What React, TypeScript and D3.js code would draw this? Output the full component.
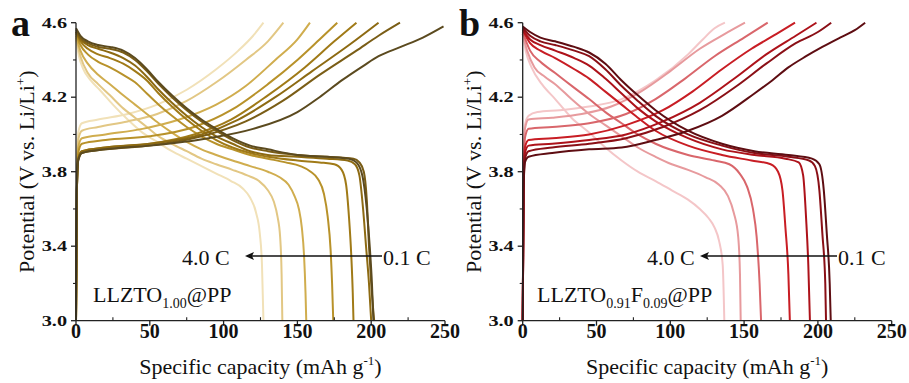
import React from "react";
import * as d3 from "d3";

type Pt = [number, number];

// ---------- Data ----------
const xTicks = [0, 50, 100, 150, 200, 250];
const xMinorTicks = [25, 75, 125, 175, 225];
const yTicks = [3.0, 3.4, 3.8, 4.2, 4.6];
const yMinorTicks = [3.2, 3.6, 4.0, 4.4];

// Panel a (LLZTO1.00@PP) — darkest (lowest rate) first
const colorsA = ["#5b4a1f", "#7a5d16", "#8d6a12", "#a07a17", "#b8922a", "#d0ad4e", "#e2c784", "#f1e1b8"];
const chargeA: Pt[][] = [
  [[0,3.0],[0.6,3.7],[1.5,3.86],[4,3.9],[20,3.92],[50,3.94],[90,3.98],[120,4.03],[150,4.12],[165,4.2],[180,4.29],[195,4.37],[205,4.42],[220,4.47],[235,4.52],[249,4.58]],
  [[0,3.0],[0.6,3.7],[1.5,3.86],[4,3.9],[20,3.92],[50,3.94],[85,3.99],[115,4.07],[140,4.18],[165,4.32],[190,4.45],[205,4.53],[219.5,4.6]],
  [[0,3.0],[0.6,3.7],[1.5,3.87],[4,3.91],[20,3.93],[50,3.95],[85,4.0],[110,4.08],[135,4.2],[160,4.34],[185,4.48],[205,4.6]],
  [[0,3.0],[0.6,3.7],[1.5,3.87],[4,3.91],[20,3.93],[50,3.95],[80,4.0],[105,4.08],[130,4.21],[155,4.36],[175,4.5],[190,4.6]],
  [[0,3.0],[0.6,3.7],[1.5,3.9],[4,3.95],[20,3.97],[50,3.99],[80,4.04],[105,4.13],[130,4.27],[150,4.4],[165,4.51],[177,4.6]],
  [[0,3.0],[0.6,3.72],[1.5,3.93],[4,3.98],[20,4.0],[45,4.03],[70,4.08],[95,4.16],[115,4.26],[135,4.4],[150,4.51],[158.5,4.6]],
  [[0,3.0],[0.6,3.75],[1.5,3.97],[4,4.02],[15,4.04],[35,4.07],[55,4.11],[75,4.18],[95,4.28],[115,4.4],[130,4.5],[140.5,4.6]],
  [[0,3.0],[0.6,3.78],[1.5,4.01],[4,4.06],[15,4.08],[35,4.11],[55,4.16],[75,4.24],[95,4.35],[110,4.45],[120,4.53],[127,4.6]],
];
const dischargeA: Pt[][] = [
  [[0,4.57],[3,4.53],[8,4.5],[15,4.48],[23,4.47],[32,4.45],[40,4.41],[48,4.35],[56,4.28],[65,4.21],[75,4.14],[85,4.08],[95,4.03],[106,3.98],[118,3.94],[130,3.92],[150,3.89],[170,3.88],[185,3.87],[190,3.85],[194,3.78],[197,3.6],[199,3.4],[200.5,3.2],[201.5,3.0]],
  [[0,4.56],[3,4.52],[8,4.49],[15,4.47],[23,4.46],[32,4.44],[40,4.4],[48,4.34],[56,4.27],[65,4.2],[75,4.13],[85,4.07],[95,4.02],[106,3.97],[118,3.93],[130,3.91],[150,3.89],[170,3.88],[188,3.87],[192,3.85],[195,3.8],[197,3.65],[198.5,3.4],[200,3.2],[202,3.0]],
  [[0,4.55],[3,4.51],[8,4.48],[15,4.46],[23,4.44],[32,4.41],[40,4.37],[48,4.31],[56,4.24],[65,4.17],[75,4.1],[85,4.04],[95,3.99],[106,3.95],[118,3.91],[130,3.89],[150,3.88],[170,3.87],[184,3.86],[189,3.84],[192,3.78],[194.5,3.6],[196.5,3.4],[198.5,3.2],[200,3.0]],
  [[0,4.55],[3,4.5],[8,4.46],[15,4.43],[23,4.41],[32,4.38],[40,4.34],[48,4.29],[56,4.22],[65,4.15],[75,4.08],[85,4.02],[95,3.97],[106,3.93],[118,3.9],[130,3.88],[150,3.86],[165,3.85],[175,3.84],[180,3.81],[183,3.73],[185,3.55],[186.5,3.35],[187.5,3.15],[188,3.0]],
  [[0,4.54],[3,4.48],[8,4.43],[15,4.39],[23,4.36],[32,4.32],[40,4.28],[48,4.22],[56,4.16],[65,4.1],[75,4.04],[85,3.99],[95,3.95],[106,3.92],[118,3.89],[130,3.87],[142,3.85],[152,3.83],[159,3.8],[164,3.76],[168,3.68],[170.5,3.56],[172.5,3.38],[173.5,3.2],[174.3,3.0]],
  [[0,4.53],[3,4.45],[8,4.38],[15,4.32],[23,4.27],[32,4.21],[40,4.16],[48,4.11],[56,4.06],[65,4.01],[75,3.96],[85,3.92],[95,3.89],[106,3.86],[118,3.83],[130,3.8],[138,3.77],[144,3.73],[148,3.67],[151,3.6],[153,3.5],[154.5,3.35],[155.5,3.15],[156,3.0]],
  [[0,4.52],[3,4.42],[8,4.33],[15,4.27],[23,4.21],[32,4.14],[40,4.09],[48,4.04],[56,3.99],[65,3.95],[75,3.91],[85,3.87],[95,3.84],[106,3.81],[116,3.78],[124,3.75],[130,3.7],[134,3.64],[136.5,3.56],[138.3,3.45],[139.3,3.25],[139.8,3.0]],
  [[0,4.51],[2,4.42],[5,4.35],[10,4.29],[16,4.24],[25,4.16],[35,4.08],[45,4.01],[55,3.96],[65,3.91],[75,3.87],[85,3.83],[95,3.79],[105,3.75],[113,3.71],[118,3.66],[122,3.58],[124.5,3.47],[126,3.3],[127,3.0]],
];

// Panel b (LLZTO0.91F0.09@PP) — darkest (lowest rate) first
const colorsB = ["#5e0d12", "#8a0f16", "#ad121a", "#c81d24", "#d9666b", "#e79a9d", "#f4c6c8"];
const chargeB: Pt[][] = [
  [[0,3.0],[0.6,3.7],[1.5,3.85],[4,3.88],[20,3.9],[45,3.92],[67,3.93],[90,3.97],[112,4.02],[135,4.1],[157,4.22],[169,4.29],[180,4.36],[192,4.42],[203,4.47],[215,4.52],[225,4.56],[232,4.6]],
  [[0,3.0],[0.6,3.7],[1.5,3.87],[4,3.91],[20,3.93],[45,3.95],[70,3.98],[95,4.04],[120,4.13],[145,4.26],[165,4.38],[185,4.49],[200,4.55],[209,4.6]],
  [[0,3.0],[0.6,3.7],[1.5,3.9],[4,3.94],[20,3.95],[45,3.97],[70,4.0],[95,4.07],[120,4.17],[145,4.31],[165,4.43],[185,4.53],[199,4.6]],
  [[0,3.0],[0.6,3.72],[1.5,3.93],[4,3.97],[20,3.98],[45,4.0],[70,4.05],[95,4.13],[115,4.23],[135,4.35],[155,4.46],[172,4.54],[184.5,4.6]],
  [[0,3.0],[0.6,3.75],[1.5,3.98],[4,4.03],[20,4.04],[45,4.06],[70,4.11],[90,4.19],[110,4.3],[130,4.42],[150,4.52],[166,4.6]],
  [[0,3.0],[0.6,3.8],[1.5,4.03],[4,4.08],[20,4.09],[40,4.11],[60,4.15],[80,4.23],[100,4.34],[120,4.46],[137,4.54],[150.6,4.6]],
  [[0,3.0],[0.6,3.8],[1.5,4.05],[4,4.1],[10,4.12],[25,4.13],[45,4.15],[67,4.19],[90,4.29],[112,4.43],[122,4.51],[130,4.57],[137,4.6]],
];
const dischargeB: Pt[][] = [
  [[0,4.58],[5,4.55],[12,4.52],[22,4.5],[35,4.47],[45,4.44],[56,4.38],[67,4.29],[78,4.21],[90,4.13],[112,4.02],[135,3.95],[157,3.91],[180,3.89],[196,3.87],[201,3.84],[204,3.7],[206,3.47],[208,3.2],[208.7,3.0]],
  [[0,4.57],[5,4.53],[12,4.5],[22,4.48],[35,4.45],[45,4.42],[56,4.35],[67,4.26],[78,4.18],[90,4.1],[112,4.0],[135,3.94],[157,3.9],[180,3.88],[194,3.86],[198,3.83],[201,3.7],[203,3.47],[205,3.2],[205.5,3.0]],
  [[0,4.56],[5,4.51],[12,4.48],[22,4.45],[35,4.41],[45,4.37],[56,4.3],[67,4.22],[78,4.14],[90,4.07],[112,3.98],[135,3.92],[157,3.89],[178,3.87],[187,3.85],[190,3.78],[192,3.55],[193.5,3.3],[194.6,3.0]],
  [[0,4.56],[5,4.49],[12,4.45],[22,4.41],[35,4.35],[45,4.3],[56,4.23],[67,4.16],[78,4.09],[90,4.02],[112,3.94],[135,3.89],[155,3.86],[168,3.84],[173,3.8],[176,3.7],[178,3.5],[180,3.25],[181,3.0]],
  [[0,4.55],[5,4.45],[12,4.39],[22,4.33],[35,4.25],[45,4.19],[56,4.12],[67,4.06],[78,4.0],[90,3.95],[112,3.89],[130,3.86],[140,3.84],[147,3.79],[152,3.72],[156,3.6],[158.5,3.45],[160.5,3.2],[161.5,3.0]],
  [[0,4.54],[3,4.45],[8,4.36],[15,4.31],[22,4.27],[33,4.19],[45,4.11],[56,4.05],[67,3.99],[78,3.93],[90,3.88],[101,3.84],[112,3.81],[124,3.77],[133,3.73],[139,3.67],[143,3.58],[146,3.45],[147.2,3.25],[147.7,3.0]],
  [[0,4.54],[2,4.45],[6,4.36],[13,4.27],[22,4.19],[33,4.09],[45,4.01],[56,3.93],[67,3.86],[78,3.8],[90,3.75],[101,3.7],[112,3.65],[120,3.6],[126,3.55],[130,3.5],[133,3.43],[135.5,3.3],[136.6,3.0]],
];

// ---------- Layout ----------
const W = 909, H = 383;
const yTop = 22.7, yBot = 320.7;
const serif = "'Liberation Serif', 'Times New Roman', serif";

type PanelDef = {
  letter: string; letterX: number; x0: number; x1: number;
  charge: Pt[][]; discharge: Pt[][]; colors: string[];
  sample: { base: string; sub: string }[]; sampleX: number;
  ann4X: number; ann01X: number; arrowTip: number; arrowTail: number;
};

const panels: PanelDef[] = [
  {
    letter: "a", letterX: 11, x0: 76, x1: 445, charge: chargeA, discharge: dischargeA, colors: colorsA,
    sample: [{ base: "LLZTO", sub: "1.00" }, { base: "@PP", sub: "" }], sampleX: 93,
    ann4X: 182, ann01X: 383, arrowTip: 245, arrowTail: 382,
  },
  {
    letter: "b", letterX: 459, x0: 522.7, x1: 891.7, charge: chargeB, discharge: dischargeB, colors: colorsB,
    sample: [{ base: "LLZTO", sub: "0.91" }, { base: "F", sub: "0.09" }, { base: "@PP", sub: "" }], sampleX: 537,
    ann4X: 647, ann01X: 838, arrowTip: 700, arrowTail: 837,
  },
];

function Panel({ p }: { p: PanelDef }) {
  const x = d3.scaleLinear().domain([0, 250]).range([p.x0, p.x1]);
  const y = d3.scaleLinear().domain([3.0, 4.6]).range([yBot, yTop]);
  const line = d3.line<Pt>().x(d => x(d[0])).y(d => y(d[1])).curve(d3.curveMonotoneX);
  const n = p.colors.length;
  const order = d3.range(n).reverse(); // lightest first, darkest on top
  const axisColor = "#222";
  return (
    <g>
      {order.map(i => (
        <g key={i}>
          <path d={line(p.charge[i]) || ""} fill="none" stroke={p.colors[i]} strokeWidth={2} strokeLinejoin="round" />
          <path d={line(p.discharge[i]) || ""} fill="none" stroke={p.colors[i]} strokeWidth={2} strokeLinejoin="round" />
        </g>
      ))}
      {/* axes */}
      <line x1={p.x0} x2={p.x0} y1={yTop} y2={yBot} stroke={axisColor} strokeWidth={1.3} />
      <line x1={p.x0} x2={p.x1} y1={yBot} y2={yBot} stroke={axisColor} strokeWidth={1.3} />
      {xTicks.map(t => (
        <g key={"xt" + t}>
          <line x1={x(t)} x2={x(t)} y1={yBot} y2={yBot + 5} stroke={axisColor} strokeWidth={1.3} />
          <text x={x(t)} y={338} textAnchor="middle" fontFamily={serif} fontWeight="bold" fontSize={20} fill="#111">{t}</text>
        </g>
      ))}
      {xMinorTicks.map(t => (
        <line key={"xm" + t} x1={x(t)} x2={x(t)} y1={yBot} y2={yBot - 3.5} stroke={axisColor} strokeWidth={1.1} />
      ))}
      {yTicks.map(t => (
        <g key={"yt" + t}>
          <line x1={p.x0 - 5} x2={p.x0} y1={y(t)} y2={y(t)} stroke={axisColor} strokeWidth={1.3} />
          <text transform={`translate(${p.x0 - 9},${y(t)}) scale(1.35,1)`} dy="0.35em" textAnchor="end" fontFamily={serif} fontWeight="bold" fontSize={15} fill="#111">{t.toFixed(1)}</text>
        </g>
      ))}
      {yMinorTicks.map(t => (
        <line key={"ym" + t} x1={p.x0 - 3} x2={p.x0} y1={y(t)} y2={y(t)} stroke={axisColor} strokeWidth={1.1} />
      ))}
      {/* axis titles */}
      <text x={(p.x0 + p.x1) / 2} y={374} textAnchor="middle" fontFamily={serif} fontSize={22} fill="#111">
        Specific capacity (mAh g<tspan fontSize={13} dy={-9}>-1</tspan><tspan dy={9}>)</tspan>
      </text>
      <text transform={`translate(${p.x0 - 42},${(yTop + yBot) / 2}) rotate(-90)`} textAnchor="middle" fontFamily={serif} fontSize={22} fill="#111">
        Potential (V vs. Li/Li<tspan fontSize={13} dy={-9}>+</tspan><tspan dy={9}>)</tspan>
      </text>
      {/* panel letter */}
      <text x={p.letterX} y={36} fontFamily={serif} fontWeight="bold" fontSize={38} fill="#111">{p.letter}</text>
      {/* rate annotation */}
      <text x={p.ann4X} y={265} fontFamily={serif} fontSize={22} fill="#111">4.0 C</text>
      <text x={p.ann01X} y={265} fontFamily={serif} fontSize={22} fill="#111">0.1 C</text>
      <line x1={p.arrowTail} x2={p.arrowTip + 7} y1={256} y2={256} stroke="#111" strokeWidth={1.5} />
      <path d={`M${p.arrowTip},256 L${p.arrowTip + 9},252 L${p.arrowTip + 7},256 L${p.arrowTip + 9},260 Z`} fill="#111" />
      {/* sample label */}
      <text x={p.sampleX} y={302} fontFamily={serif} fontSize={22} fill="#111">
        {p.sample.map((s, i) => (
          <React.Fragment key={i}>
            <tspan dy={i === 0 ? 0 : -6}>{s.base}</tspan>
            {s.sub ? <tspan fontSize={14} dy={6}>{s.sub}</tspan> : <tspan dy={6}></tspan>}
          </React.Fragment>
        ))}
      </text>
    </g>
  );
}

export default function App() {
  return (
    <svg width={W} height={H} viewBox={`0 0 ${W} ${H}`} style={{ position: "absolute", left: 0, top: 0, background: "#fff" }}>
      <rect width={W} height={H} fill="#fff" />
      {panels.map(p => <Panel key={p.letter} p={p} />)}
    </svg>
  );
}
